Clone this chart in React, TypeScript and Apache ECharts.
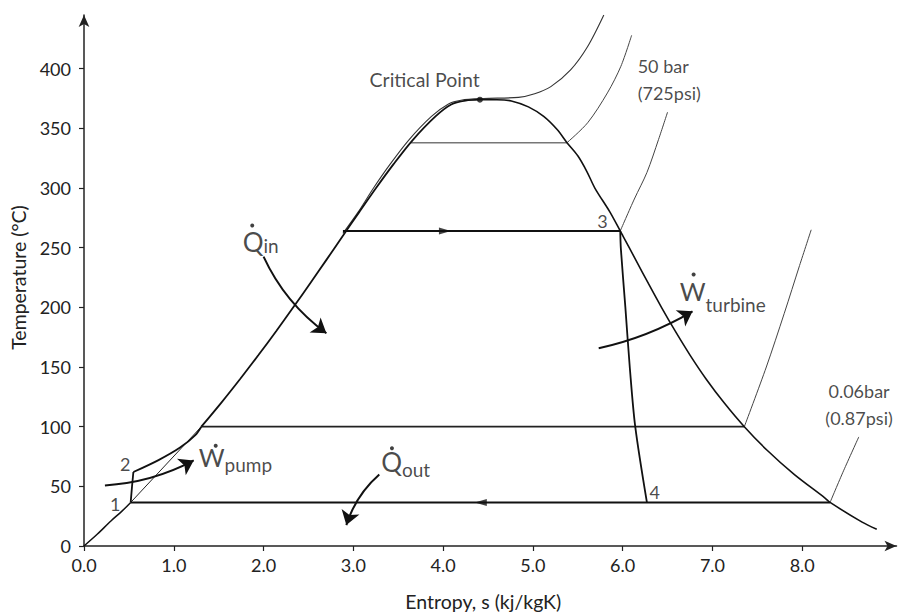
import React, { useEffect, useRef } from 'react';
import * as echarts from 'echarts';

// ---- axis ticks ----
const X_TICKS = [0, 1, 2, 3, 4, 5, 6, 7, 8];
const Y_TICKS = [0, 50, 100, 150, 200, 250, 300, 350, 400];

// ---- saturation dome (s kJ/kgK, T °C) ----
const SAT_LIQUID_LOW = [[0, 0], [0.15, 10], [0.3, 21], [0.42, 29], [0.52, 36.5]];
const SAT_LIQUID_MID = [[0.52, 36.5], [1.307, 100]];
const SAT_LIQUID_HIGH = [
  [1.307, 100], [1.528, 120], [1.739, 140], [1.943, 160], [2.14, 180], [2.331, 200],
  [2.518, 220], [2.702, 240], [2.884, 260], [3.067, 280], [3.253, 300], [3.448, 320],
  [3.659, 340], [3.915, 360], [4.09, 370], [4.25, 373.2], [4.41, 374],
];
const SAT_VAPOUR = [
  [4.41, 374], [4.6, 374], [4.76, 373], [4.95, 368], [5.12, 360], [5.27, 349], [5.38, 338],
  [5.5, 327], [5.6, 314], [5.69, 300], [5.857, 280], [5.973, 264], [6.002, 260], [6.144, 240],
  [6.286, 220], [6.432, 200], [6.586, 180], [6.75, 160], [6.929, 140], [7.13, 120],
  [7.355, 100], [7.612, 80], [7.91, 60], [8.257, 40], [8.31, 36.5], [8.667, 20], [8.83, 14],
];

// ---- isobars ----
const ISOBAR_SUPERCRIT = [
  [2.884, 262], [3.055, 280], [3.225, 300], [3.41, 320], [3.615, 340], [3.87, 360],
  [4.06, 370.5], [4.2, 373.6], [4.45, 375], [4.84, 376], [5.02, 379], [5.2, 385],
  [5.42, 399], [5.61, 418.6], [5.79, 445],
];
const ISOBAR_150BAR = [[5.38, 338], [5.61, 354.7], [5.83, 379.7], [5.98, 402], [6.1, 428]];
const ISOBAR_50BAR = [[5.973, 264], [6.13, 290.8], [6.27, 313], [6.4, 340.8], [6.5, 363.6]];
const ISOBAR_1BAR = [[7.355, 100], [7.6, 150], [7.8, 195], [7.97, 235], [8.1, 265]];
const ISOBAR_006BAR = [[8.31, 36.5], [8.46, 63], [8.63, 91.4]];
const LINE_T338 = [[3.64, 338], [5.38, 338]];
const LINE_T100 = [[1.307, 100], [7.355, 100]];

// ---- Rankine cycle ----
const PUMP_1_2 = [[0.52, 36.5], [0.535, 50], [0.55, 62]];
const HEAT_2 = [[0.55, 62], [0.83, 72], [1.07, 82.5], [1.24, 93], [1.307, 100]];
const BOIL_2_3 = [[2.884, 264], [5.973, 264]];
const EXPAND_3_4 = [[5.973, 264], [5.98, 249], [6.03, 200], [6.08, 149], [6.14, 100], [6.27, 36.5]];
const CONDENSE_4_1 = [[8.31, 36.5], [0.52, 36.5]];
const CRITICAL_POINT = [[4.41, 374]];
const FLOW_RIGHT = [[4.02, 264]];
const FLOW_LEFT = [[4.42, 36.5]];

const FONT = 'Lato, "Open Sans", sans-serif';

type Ann = { text: string; at: number[]; size: number; align?: string };
const ANNOTATIONS: Ann[] = [
  { text: 'Critical Point', at: [3.794, 390.8], size: 19.5 },
  { text: '50 bar', at: [6.167, 402], size: 18 },
  { text: '(725psi)', at: [6.167, 380], size: 18 },
  { text: '0.06bar', at: [8.633, 130], size: 18 },
  { text: '(0.87psi)', at: [8.633, 107.5], size: 18 },
  { text: '3', at: [5.774, 272.75], size: 18 },
  { text: '4', at: [6.356, 45], size: 18 },
  { text: '2', at: [0.459, 68.6], size: 18 },
  { text: '1', at: [0.348, 35], size: 18 },
].map((a, i) => ({ ...a, align: i === 1 || i === 2 ? 'left' : 'center' }));

// symbol + subscript labels (anchored at the left edge / vertical centre of the main glyph)
type Sym = { main: string; sub: string; at: number[]; drop: number };
const SYMBOLS: Sym[] = [
  { main: 'Q', sub: 'in', at: [1.767, 255], drop: 4 },
  { main: 'W', sub: 'pump', at: [1.278, 74.4], drop: 7 },
  { main: 'Q', sub: 'out', at: [3.31, 70.8], drop: 8 },
  { main: 'W', sub: 'turbine', at: [6.635, 213.75], drop: 14 },
];
const DOTS = [[1.874, 268.6], [1.467, 84], [3.43, 81.9], [6.79, 227.5]];

type Arrow = { from: number[]; to: number[]; curve: number };
const ARROWS: Arrow[] = [
  { from: [2.0, 242.5], to: [2.7, 178.3], curve: -0.13 },
  { from: [0.233, 50.8], to: [1.222, 71.7], curve: -0.11 },
  { from: [3.289, 60], to: [2.922, 17.5], curve: -0.14 },
  { from: [5.733, 165.8], to: [6.778, 196.7], curve: -0.08 },
];

const line = (data: number[][], width: number, color = '#111', smooth: number | boolean = false, z = 2) => ({
  type: 'line', data, symbol: 'none', showSymbol: false, silent: true, z, smooth,
  lineStyle: { width, color }, clip: true,
});

export default function App() {
  const ref = useRef<HTMLDivElement>(null);
  useEffect(() => {
    if (!ref.current) return;
    const chart = echarts.init(ref.current, undefined, { renderer: 'svg' });
    const axisText = { color: '#222', fontSize: 18, fontFamily: FONT };
    const nameText = { color: '#222', fontSize: 19.5, fontFamily: FONT };
    chart.setOption({
      animation: false,
      backgroundColor: '#fff',
      grid: { left: 82, right: 7.5, top: 15, bottom: 67, containLabel: false },
      xAxis: {
        type: 'value', min: 0, max: 9.05, interval: 1,
        name: 'Entropy, s (kj/kgK)', nameLocation: 'middle', nameGap: 45,
        nameTextStyle: { ...nameText, padding: [0, 14, 0, 0] },
        axisLine: { show: true, symbol: ['none', 'arrow'], symbolSize: [8, 12], lineStyle: { color: '#222', width: 1.5 } },
        axisTick: { show: true, length: 5, customValues: X_TICKS, lineStyle: { color: '#222', width: 1.2 } },
        axisLabel: { ...axisText, customValues: X_TICKS, margin: 10, formatter: (v: number) => v.toFixed(1) },
        splitLine: { show: false },
      },
      yAxis: {
        type: 'value', min: 0, max: 445, interval: 50,
        name: 'Temperature (°C)', nameLocation: 'middle', nameGap: 56,
        nameTextStyle: { ...nameText, padding: [0, 0, 0, 6] },
        axisLine: { show: true, symbol: ['none', 'arrow'], symbolSize: [8, 12], lineStyle: { color: '#222', width: 1.5 } },
        axisTick: { show: true, length: 5, customValues: Y_TICKS, lineStyle: { color: '#222', width: 1.2 } },
        axisLabel: { ...axisText, customValues: Y_TICKS, margin: 13 },
        splitLine: { show: false },
      },
      series: [
        line(ISOBAR_SUPERCRIT, 1.1, '#333', 0.3),
        line(ISOBAR_150BAR, 1, '#444', 0.3),
        line(ISOBAR_50BAR, 1, '#444', 0.3),
        line(ISOBAR_1BAR, 1, '#444', 0.3),
        line(ISOBAR_006BAR, 1, '#444', 0.3),
        line(LINE_T338, 1.6, '#777'),
        line(LINE_T100, 1.6, '#222'),
        line(SAT_LIQUID_LOW, 1.5, '#111', 0.3),
        line(SAT_LIQUID_MID, 1, '#222'),
        line(SAT_LIQUID_HIGH, 1.8, '#111', 0.3),
        line(SAT_VAPOUR, 1.6, '#111', 0.3),
        line(PUMP_1_2, 1.8, '#111'),
        line(HEAT_2, 1.8, '#111', 0.3),
        line(BOIL_2_3, 2, '#111'),
        line(EXPAND_3_4, 1.8, '#111', 0.3),
        line(CONDENSE_4_1, 2, '#111'),
        {
          type: 'scatter', data: CRITICAL_POINT, symbol: 'circle', symbolSize: 6, silent: true, z: 5,
          itemStyle: { color: '#111' },
        },
        {
          type: 'scatter', data: FLOW_RIGHT, symbol: 'path://M0,0 L12,4 L0,8 Z', symbolSize: [12, 7], silent: true, z: 5,
          itemStyle: { color: '#111' },
        },
        {
          type: 'scatter', data: FLOW_LEFT, symbol: 'path://M12,0 L0,4 L12,8 Z', symbolSize: [12, 7], silent: true, z: 5,
          itemStyle: { color: '#111' },
        },
        {
          type: 'scatter', data: DOTS, symbol: 'circle', symbolSize: 4, silent: true, z: 8,
          itemStyle: { color: '#111' },
        },
        {
          type: 'lines', coordinateSystem: 'cartesian2d', silent: true, z: 6,
          symbol: ['none', 'arrow'], symbolSize: [0, 14],
          lineStyle: { color: '#111', width: 2, opacity: 1 },
          data: ARROWS.map((a) => ({ coords: [a.from, a.to], lineStyle: { curveness: a.curve } })),
        },
        {
          type: 'scatter', symbolSize: 0, silent: true, z: 7,
          data: ANNOTATIONS.map((a) => ({
            value: a.at,
            label: {
              show: true, position: 'inside', formatter: a.text, color: '#1a1a1a',
              fontSize: a.size, fontFamily: FONT, align: a.align, verticalAlign: 'middle',
            },
          })),
        },
        {
          type: 'scatter', symbolSize: 0, silent: true, z: 7,
          data: SYMBOLS.map((m) => {
            const fsM = m.main === 'Q' ? 26 : 25;
            const h = m.drop + 9.5 + fsM / 2;
            return {
              value: m.at,
              label: {
                show: true, position: 'inside', align: 'left', verticalAlign: 'middle',
                offset: [0, h / 2 - fsM / 2],
                formatter: `{m|${m.main}}{s|${m.sub}}`,
                rich: {
                  m: { fontSize: fsM, fontFamily: FONT, color: '#1a1a1a', lineHeight: h, verticalAlign: 'top' },
                  s: { fontSize: 19, fontFamily: FONT, color: '#1a1a1a', lineHeight: 19, verticalAlign: 'bottom' },
                },
              },
            };
          }),
        },
      ],
    });
    return () => chart.dispose();
  }, []);
  return <div ref={ref} style={{ position: 'fixed', left: 0, top: 0, width: 904, height: 616, background: '#fff' }} />;
}
